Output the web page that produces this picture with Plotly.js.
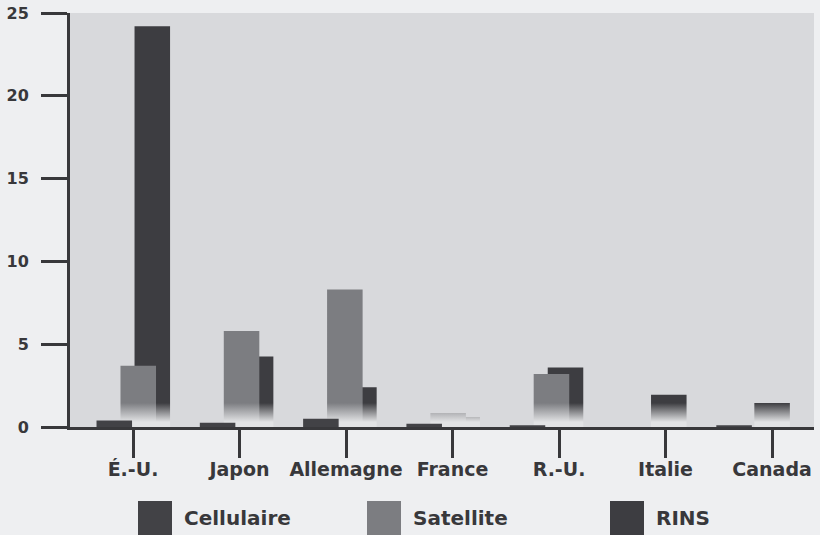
<!DOCTYPE html>
<html>
<head>
<meta charset="utf-8">
<script src="https://cdn.plot.ly/plotly-3.0.1.min.js"></script>
<style>
  html, body { margin: 0; padding: 0; background: #eeeff1; }
  #chart { width: 820px; height: 535px; }
</style>
</head>
<body>
<div id="chart"></div>
<script>
// Pays et valeurs par technologie
var pays = ['É.-U.', 'Japon', 'Allemagne', 'France', 'R.-U.', 'Italie', 'Canada'];
var cellulaire = [0.4, 0.25, 0.5, 0.2, 0.1, 0, 0.1];
var satellite  = [3.7, 5.8, 8.3, 0.85, 3.2, 0, 0];
var rins       = [24.2, 4.25, 2.4, 0.6, 3.6, 1.95, 1.45];
var seriesNames = ['Cellulaire', 'Satellite', 'RINS'];
var yTicks = [0, 5, 10, 15, 20, 25];

var ink = '#38383b';
var colCell = '#424246';
var colSat  = '#7c7d81';
var colRins = '#3d3d41';
var fadeTo  = '#e2e3e5';

var W = 820, H = 535;
var M = {l: 70, r: 6, t: 13, b: 108};
var plotW = W - M.l - M.r, plotH = H - M.t - M.b;

// bars overlap slightly inside each group: RINS at the back, cellulaire in front
function barTrace(name, vals, color, offset) {
  return {
    type: 'bar', name: name, x: pays, y: vals,
    offset: offset, width: 0.344,
    marker: {color: color, line: {width: 0}},
    showlegend: false, hoverinfo: 'skip'
  };
}
var idx = pays.map(function (p, i) { return i; });
var data = [
  barTrace(seriesNames[2], rins, colRins, 0.01),
  barTrace(seriesNames[1], satellite, colSat, -0.126),
  barTrace(seriesNames[0], cellulaire, colCell, -0.358),
  // empty carrier so the labelled country axis is laid out
  {type: 'scatter', mode: 'none', x: idx, y: idx.map(function () { return null; }),
   xaxis: 'x2', yaxis: 'y', showlegend: false, hoverinfo: 'skip'}
];

// legend drawn as large square swatches with bold labels under the axis
function px2x(p) { return (p - M.l) / plotW; }
function px2y(p) { return (H - M.b - p) / plotH; }
var legendItems = [
  {label: seriesNames[0], color: colCell, x0: 138},
  {label: seriesNames[1], color: colSat,  x0: 367},
  {label: seriesNames[2], color: colRins, x0: 610}
];
var shapes = [], annotations = [];
legendItems.forEach(function (it) {
  shapes.push({
    type: 'rect', xref: 'paper', yref: 'paper', layer: 'above',
    x0: px2x(it.x0), x1: px2x(it.x0 + 34), y0: px2y(501), y1: px2y(535),
    fillcolor: it.color, line: {width: 0}
  });
  annotations.push({
    xref: 'paper', yref: 'paper', x: px2x(it.x0 + 44), y: px2y(518),
    xanchor: 'left', yanchor: 'middle', showarrow: false, text: it.label,
    font: {family: 'DejaVu Sans', size: 20, weight: 700, color: ink}
  });
});

var layout = {
  width: W, height: H,
  margin: M,
  paper_bgcolor: '#eeeff1',
  plot_bgcolor: '#d8d9dc',
  barmode: 'overlay',
  showlegend: false,
  xaxis: {
    type: 'category', range: [-0.6147, 6.5876],
    showticklabels: false, ticks: '',
    showline: true, linewidth: 3, linecolor: ink,
    showgrid: false, zeroline: false, fixedrange: true
  },
  xaxis2: {
    overlaying: 'x', anchor: 'y', side: 'bottom', type: 'linear',
    range: [-0.5915, 6.394],
    tickmode: 'array', tickvals: idx, ticktext: pays,
    ticks: 'outside', ticklen: 30, tickwidth: 3, tickcolor: ink,
    ticklabelstandoff: -5,
    tickfont: {family: 'DejaVu Sans', size: 19, weight: 700, color: ink},
    showline: false, showgrid: false, zeroline: false, fixedrange: true
  },
  yaxis: {
    range: [0, 25], tickvals: yTicks,
    ticks: 'outside', ticklen: 26, tickwidth: 3, tickcolor: ink,
    ticklabelstandoff: 9,
    tickfont: {family: 'DejaVu Sans', size: 16, weight: 700, color: ink},
    showline: true, linewidth: 3, linecolor: ink,
    showgrid: false, zeroline: false, fixedrange: true
  },
  shapes: shapes,
  annotations: annotations
};

var gd = document.getElementById('chart');
Plotly.newPlot(gd, data, layout, {staticPlot: true, displayModeBar: false}).then(function () {
  // tall bars fade out toward their base
  var svg = gd.querySelector('svg.main-svg');
  var defs = svg.querySelector('defs');
  var L = gd._fullLayout.yaxis._length;
  var NS = 'http://www.w3.org/2000/svg';
  function addFade(id, color) {
    var g = document.createElementNS(NS, 'linearGradient');
    g.setAttribute('id', id);
    g.setAttribute('gradientUnits', 'userSpaceOnUse');
    g.setAttribute('x1', 0); g.setAttribute('x2', 0);
    g.setAttribute('y1', L - 24); g.setAttribute('y2', L - 5);
    [[0, color], [1, fadeTo]].forEach(function (s) {
      var st = document.createElementNS(NS, 'stop');
      st.setAttribute('offset', s[0]);
      st.setAttribute('stop-color', s[1]);
      g.appendChild(st);
    });
    defs.appendChild(g);
  }
  addFade('fadeRins', colRins);
  addFade('fadeSat', colSat);
  var layers = gd.querySelectorAll('.barlayer .trace');
  var fills = ['url(#fadeRins)', 'url(#fadeSat)'];
  fills.forEach(function (f, i) {
    if (!layers[i]) return;
    layers[i].querySelectorAll('path').forEach(function (p) { p.style.fill = f; });
  });
});
</script>
</body>
</html>
